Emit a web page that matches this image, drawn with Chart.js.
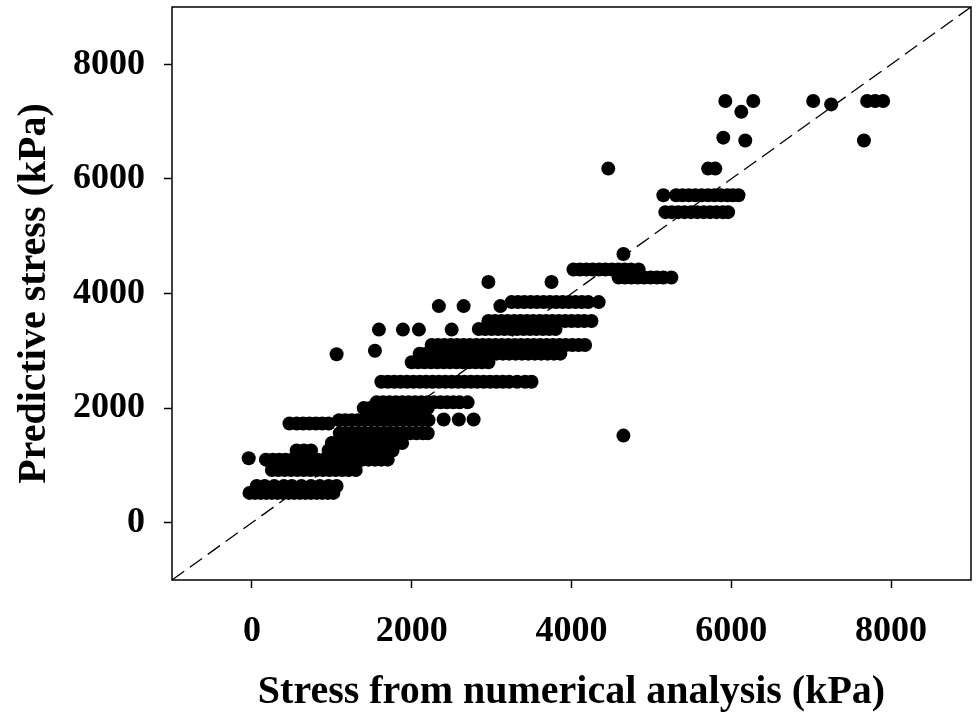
<!DOCTYPE html>
<html>
<head>
<meta charset="utf-8">
<title>Predictive stress vs numerical analysis</title>
<script src="https://cdn.jsdelivr.net/npm/chart.js@4.4.1/dist/chart.umd.min.js"></script>
<style>
  html, body { margin: 0; padding: 0; background: #fff; }
  canvas { display: block; }
</style>
</head>
<body>
<canvas id="stressChart" width="978" height="718"></canvas>
<script>
// Predicted stress levels (kPa) and the numerical stresses that map onto each level
const bandLevels = [520, 640, 920, 1100, 1260, 1390, 1560, 1730, 1790, 1800, 2000, 2100, 2460, 2800, 2950, 3100, 3380, 3520, 3850, 4280, 4420, 5420, 5715];
const bandX = [
    [-30, 40, 110, 180, 250, 320, 390, 460, 530, 600, 670, 740, 810, 880, 950, 1020],
    [60, 160, 280, 400, 500, 620, 740, 850, 960, 1060],
    [250, 330, 410, 490, 570, 650, 730, 810, 890, 970, 1050, 1130, 1210, 1300],
    [175, 260, 340, 420, 500, 580, 660, 740, 820, 900, 980, 1060, 1140, 1220, 1300, 1380, 1460, 1540, 1620, 1700],
    [560, 650, 740, 960, 1040, 1120, 1200, 1280, 1360, 1440, 1520, 1600, 1680, 1760],
    [1000, 1080, 1160, 1240, 1320, 1400, 1480, 1560, 1640, 1720, 1800, 1880],
    [1100, 1180, 1260, 1340, 1420, 1500, 1580, 1660, 1740, 1820, 1900, 1980, 2060, 2140, 2200],
    [470, 560, 640, 720, 800, 880, 960],
    [1090, 1170, 1250, 1330, 1410, 1490, 1570, 1650, 1730, 1810, 1890, 1970, 2050, 2130, 2210],
    [2400, 2590, 2775],
    [1400, 1480, 1560, 1640, 1720, 1800, 1880, 1960, 2040, 2120, 2200],
    [1560, 1640, 1720, 1800, 1880, 1960, 2040, 2120, 2200, 2280, 2360, 2440, 2520, 2600, 2700],
    [1620, 1700, 1780, 1860, 1940, 2020, 2100, 2180, 2260, 2340, 2420, 2500, 2580, 2660, 2740, 2820, 2900, 2980, 3060, 3140, 3220, 3320, 3420, 3500],
    [2000, 2080, 2160, 2240, 2320, 2400, 2480, 2560, 2640, 2720, 2800, 2880, 2960],
    [2100, 2180, 2260, 2340, 2420, 2500, 2580, 2660, 2740, 2820, 2900, 2980, 3060, 3140, 3220, 3300, 3380, 3460, 3540, 3620, 3700, 3780, 3860],
    [2250, 2330, 2410, 2490, 2570, 2650, 2730, 2810, 2890, 2970, 3050, 3130, 3210, 3290, 3370, 3450, 3530, 3610, 3690, 3770, 3850, 3930, 4010, 4090, 4170],
    [2840, 2920, 3000, 3080, 3160, 3240, 3320, 3400, 3480, 3560, 3640, 3720, 3800],
    [2960, 3040, 3120, 3200, 3280, 3360, 3440, 3520, 3600, 3680, 3760, 3840, 3920, 4000, 4080, 4160, 4250],
    [3250, 3330, 3410, 3490, 3570, 3650, 3730, 3810, 3890, 3970, 4050, 4130, 4210, 4340],
    [4590, 4670, 4750, 4830, 4910, 4990, 5070, 5150, 5250],
    [4025, 4105, 4185, 4265, 4345, 4425, 4505, 4585, 4665, 4745, 4840],
    [5175, 5255, 5335, 5415, 5495, 5575, 5655, 5735, 5815, 5895, 5960],
    [5150, 5310, 5390, 5470, 5550, 5630, 5710, 5790, 5870, 5950, 6020, 6090]
];

// Scattered points off the main bands
const looseX = [-40, 1060, 1540, 1590, 1890, 2090, 2500, 2340, 2650, 3110, 2960, 3750, 4650, 4460, 4650, 5710, 5800, 5925, 6275, 6125, 5900, 6175, 7025, 7250, 7700, 7800, 7900, 7660];
const looseY = [1125, 2940, 3000, 3370, 3370, 3370, 3370, 3780, 3780, 3780, 4200, 4200, 4690, 6180, 1520, 6180, 6180, 7360, 7360, 7170, 6720, 6670, 7360, 7300, 7360, 7360, 7360, 6670];

const axisMin = -1000;
const axisMax = 9000;
const tickValues = [0, 2000, 4000, 6000, 8000];

const points = [];
bandLevels.forEach((level, i) => {
    bandX[i].forEach(x => points.push({ x: x, y: level }));
});
looseX.forEach((x, i) => points.push({ x: x, y: looseY[i] }));

const serif = "'Liberation Serif', 'Times New Roman', serif";

// plot frame on all four sides
const framePlugin = {
    id: 'frame',
    afterDraw(chart) {
        const { ctx, chartArea: a } = chart;
        ctx.save();
        ctx.strokeStyle = '#000';
        ctx.lineWidth = 1.5;
        ctx.strokeRect(a.left, a.top, a.right - a.left, a.bottom - a.top);
        ctx.restore();
    }
};

function axisOptions(title, fitSize, isX) {
    return {
        type: 'linear',
        min: axisMin,
        max: axisMax,
        afterBuildTicks: scale => { scale.ticks = tickValues.map(v => ({ value: v })); },
        afterFit: scale => {
            if (isX) scale.height = fitSize; else scale.width = fitSize;
            // labels never sit on the plot edges, so no extra room is needed there
            scale.paddingTop = 0;
            scale.paddingBottom = 0;
            scale.paddingLeft = 0;
            scale.paddingRight = 0;
        },
        border: { display: false },
        grid: {
            drawOnChartArea: false,
            drawTicks: true,
            tickLength: 8,
            tickColor: '#000',
            tickWidth: 1.5
        },
        ticks: {
            color: '#000',
            padding: isX ? 22 : 19,
            maxRotation: 0,
            font: { family: serif, size: 36, weight: 'bold' },
            callback: v => String(v)
        },
        title: {
            display: true,
            text: title,
            color: '#000',
            padding: isX ? { bottom: 1 } : { top: 11 },
            font: { family: serif, size: 40, weight: 'bold' }
        }
    };
}

new Chart(document.getElementById('stressChart'), {
    type: 'scatter',
    data: {
        datasets: [
            {
                label: 'Data',
                data: points,
                backgroundColor: '#000',
                borderWidth: 0,
                pointRadius: 7,
                pointHoverRadius: 7,
                order: 1
            },
            {
                type: 'line',
                label: '1:1',
                data: [{ x: axisMin, y: axisMin }, { x: axisMax, y: axisMax }],
                borderColor: '#000',
                borderWidth: 1.3,
                borderDash: [15, 7],
                pointRadius: 0,
                fill: false,
                order: 2
            }
        ]
    },
    options: {
        responsive: false,
        animation: false,
        layout: { padding: { top: 3, right: 6, left: 0, bottom: 0 } },
        plugins: { legend: { display: false }, tooltip: { enabled: false } },
        scales: {
            x: axisOptions('Stress from numerical analysis (kPa)', 138, true),
            y: axisOptions('Predictive stress (kPa)', 172, false)
        }
    },
    plugins: [framePlugin]
});
</script>
</body>
</html>
